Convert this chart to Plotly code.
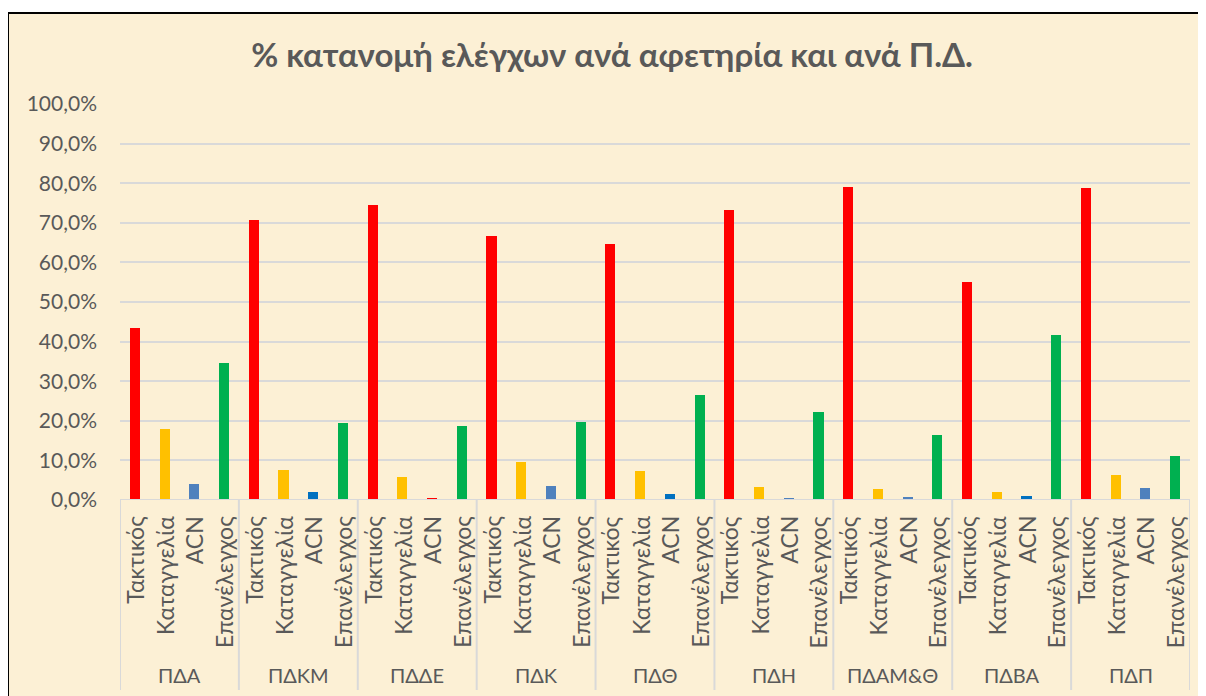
import plotly.graph_objects as go

groups = ["ΠΔΑ", "ΠΔΚΜ", "ΠΔΔΕ", "ΠΔΚ", "ΠΔΘ", "ΠΔΗ", "ΠΔΑΜ&Θ", "ΠΔΒΑ", "ΠΔΠ"]
subcats = ["Τακτικός", "Καταγγελία", "ACN", "Επανέλεγχος"]

taktikos = [43.4, 70.7, 74.5, 66.7, 64.6, 73.3, 79.0, 55.0, 78.8]
katangelia = [17.9, 7.6, 5.7, 9.5, 7.2, 3.4, 2.9, 1.9, 6.4]
acn = [4.0, 2.0, 0.5, 3.6, 1.4, 0.5, 0.8, 0.9, 3.1]
epanelegxos = [34.6, 19.4, 18.6, 19.6, 26.5, 22.1, 16.5, 41.7, 11.0]

acn_colors = ["#4F81BD", "#0070C0", "#FF0000", "#4F81BD", "#0070C0",
              "#4F81BD", "#4F81BD", "#0070C0", "#4F81BD"]

y_ticks = [0, 10, 20, 30, 40, 50, 60, 70, 80, 90, 100]
y_tick_text = ["0,0%", "10,0%", "20,0%", "30,0%", "40,0%", "50,0%",
               "60,0%", "70,0%", "80,0%", "90,0%", "100,0%"]

FONT = "Lato"
GREY = "#595959"

W, H = 1198, 688
L, R, T, B = 112, 1182, 96, 492  # plot area in figure pixels
PW, PH = R - L, B - T


def px(xp):
    return (xp - L) / PW


def py(yp):
    return (B - yp) / PH


xs, ys, cols = [], [], []
for g in range(len(groups)):
    vals = [taktikos[g], katangelia[g], acn[g], epanelegxos[g]]
    cs = ["#FF0000", "#FFC000", acn_colors[g], "#00B050"]
    for s in range(4):
        xs.append(g * 4 + s)
        ys.append(vals[s])
        cols.append(cs[s])

fig = go.Figure()
fig.add_trace(go.Bar(x=xs, y=ys, marker=dict(color=cols, line=dict(width=0)),
                     width=0.34, hoverinfo="y", showlegend=False))

shapes = [
    dict(type="rect", xref="paper", yref="paper",
         x0=px(0), x1=px(W + 10), y0=py(H + 10), y1=py(5),
         fillcolor="#FCF0D5", line=dict(color="black", width=2), layer="below"),
    dict(type="line", xref="paper", yref="y", x0=0, x1=1, y0=0, y1=0,
         line=dict(color="#D9D9D9", width=2)),
]
for k in range(len(groups) + 1):
    shapes.append(dict(type="line", xref="x", yref="paper",
                       x0=k * 4 - 0.5, x1=k * 4 - 0.5,
                       y0=0, y1=py(682),
                       line=dict(color="#D9D9D9", width=2)))

annotations = []
for g in range(len(groups)):
    for s in range(4):
        annotations.append(dict(x=g * 4 + s, y=py(506), xref="x", yref="paper",
                                text=subcats[s], textangle=-90, showarrow=False,
                                xanchor="center", yanchor="top",
                                font=dict(family=FONT, size=23, color=GREY)))
    annotations.append(dict(x=g * 4 + 1.5, y=py(667), xref="x", yref="paper",
                            text=groups[g], showarrow=False,
                            xanchor="center", yanchor="middle",
                            font=dict(family=FONT, size=20, color=GREY)))

fig.update_layout(
    width=W, height=H,
    margin=dict(l=L, r=W - R, t=T, b=H - B),
    paper_bgcolor="white",
    plot_bgcolor="rgba(0,0,0,0)",
    title=dict(text="<b>% κατανομή ελέγχων ανά αφετηρία και ανά Π.Δ.</b>",
               x=604 / W, xanchor="center", y=1 - 47 / H, yanchor="middle",
               font=dict(family=FONT, size=33, color=GREY)),
    xaxis=dict(range=[-0.5, 35.5], showticklabels=False, showgrid=False,
               zeroline=False, fixedrange=True),
    yaxis=dict(range=[0, 100], tickvals=y_ticks, ticktext=y_tick_text,
               showgrid=True, gridcolor="#D9D9D9", gridwidth=2, zeroline=False,
               tickfont=dict(family=FONT, size=21, color=GREY), ticks="",
               ticklabelstandoff=22),
    shapes=shapes,
    annotations=annotations,
    bargap=0,
)

fig.write_html("out.html")
